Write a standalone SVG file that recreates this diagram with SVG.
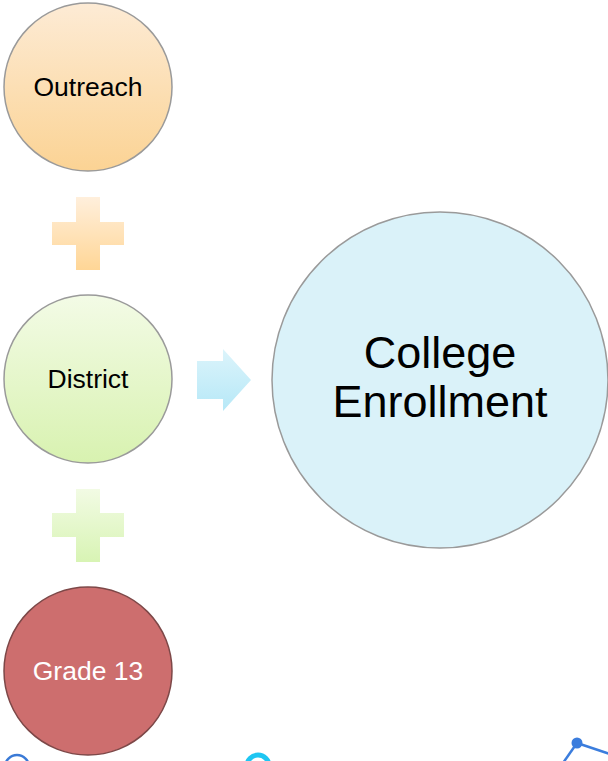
<svg xmlns="http://www.w3.org/2000/svg" width="608" height="761" viewBox="0 0 608 761">
  <defs>
    <linearGradient id="gOrange" x1="0" y1="0" x2="0" y2="1">
      <stop offset="0" stop-color="#fdebd5"/>
      <stop offset="1" stop-color="#fbd394"/>
    </linearGradient>
    <linearGradient id="gGreen" x1="0" y1="0" x2="0" y2="1">
      <stop offset="0" stop-color="#f3fbe6"/>
      <stop offset="1" stop-color="#d8f2b0"/>
    </linearGradient>
    <linearGradient id="gPlusO" x1="0" y1="0" x2="0" y2="1">
      <stop offset="0" stop-color="#ffefdc"/>
      <stop offset="1" stop-color="#ffd696"/>
    </linearGradient>
    <linearGradient id="gPlusG" x1="0" y1="0" x2="0" y2="1">
      <stop offset="0" stop-color="#f2fbe4"/>
      <stop offset="1" stop-color="#d8f4b4"/>
    </linearGradient>
    <linearGradient id="gArrow" x1="0" y1="0" x2="0" y2="1">
      <stop offset="0" stop-color="#dcf4fb"/>
      <stop offset="1" stop-color="#b6e8f7"/>
    </linearGradient>
    <style>
      .node { stroke: #9a9a9a; stroke-width: 1.5; }
      .lbl { font-family: "Liberation Sans", Arial, sans-serif; text-anchor: middle; }
      .small { font-size: 26.5px; }
      .big { font-size: 45px; fill: #000; }
    </style>
  </defs>
  <rect width="608" height="761" fill="#ffffff"/>

  <g id="connectors">
    <path id="plus1" d="M76,197 H100 V222 H124 V245 H100 V270 H76 V245 H52 V222 H76 Z" fill="url(#gPlusO)"/>
    <path id="plus2" d="M76,489 H100 V513 H124 V537 H100 V562 H76 V537 H52 V513 H76 Z" fill="url(#gPlusG)"/>
    <path id="arrow" d="M197,361 H223 V349 L251,380 L223,411 V399 H197 Z" fill="url(#gArrow)"/>
  </g>

  <g id="outreach">
    <circle class="node" cx="88" cy="87" r="84" fill="url(#gOrange)"/>
    <text class="lbl small" x="88" y="96" fill="#000">Outreach</text>
  </g>

  <g id="district">
    <circle class="node" cx="88" cy="379" r="84" fill="url(#gGreen)"/>
    <text class="lbl small" x="88" y="388" fill="#000">District</text>
  </g>

  <g id="grade13">
    <circle cx="88" cy="671" r="84" fill="#cd6e6e" stroke="#7d4848" stroke-width="1.5"/>
    <text class="lbl small" x="88" y="680" fill="#ffffff">Grade 13</text>
  </g>

  <g id="college">
    <circle class="node" cx="440" cy="380" r="168" fill="#daf2f9" stroke="#8a8a8a"/>
    <text class="lbl big" x="440" y="368">College</text>
    <text class="lbl big" x="440" y="417">Enrollment</text>
  </g>

  <g id="decorations">
    <circle cx="17" cy="767" r="12" fill="none" stroke="#3a7ad6" stroke-width="2.5"/>
    <circle cx="17" cy="768" r="6" fill="#2f6cc8"/>
    <circle cx="258" cy="766" r="11" fill="none" stroke="#1ec6f2" stroke-width="5"/>
    <line x1="577" y1="743" x2="563" y2="763" stroke="#3b7ddd" stroke-width="2.5"/>
    <line x1="577" y1="743" x2="610" y2="754" stroke="#3b7ddd" stroke-width="2.5"/>
    <circle cx="577" cy="743" r="5.5" fill="#3b7ddd"/>
  </g>
</svg>
